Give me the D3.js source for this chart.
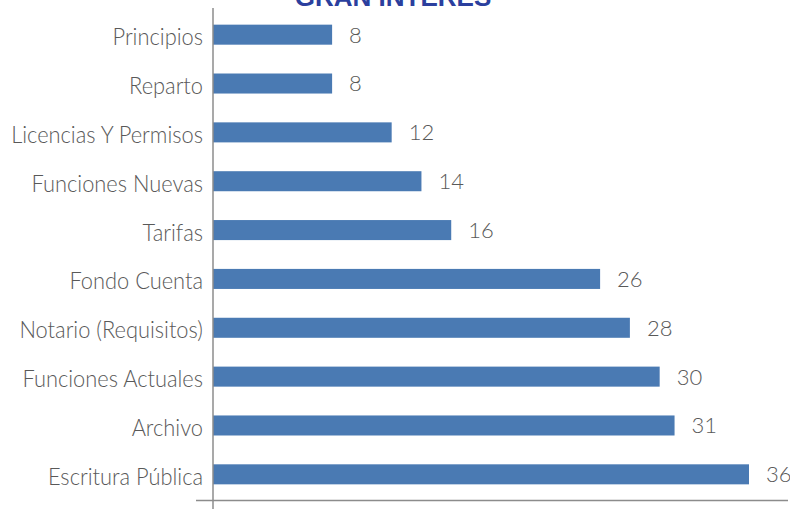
<!DOCTYPE html>
<html>
<head>
<meta charset="utf-8">
<script src="https://cdn.jsdelivr.net/npm/d3@7"></script>
<style>
  body { margin: 0; background: #fff; }
  text { font-family: Lato, sans-serif; font-weight: 300; }
</style>
</head>
<body>
<svg id="chart" width="790" height="509"></svg>
<script>
// chart data
var categories = ["Principios", "Reparto", "Licencias Y Permisos", "Funciones Nuevas", "Tarifas",
                  "Fondo Cuenta", "Notario (Requisitos)", "Funciones Actuales", "Archivo", "Escritura Pública"]
var values = [8, 8, 12, 14, 16, 26, 28, 30, 31, 36]
var title = "GRAN INTERÉS"

var svg = d3.select("#chart")
var x0 = 213, xEnd = 749, yTop = 10, yBottom = 499

var x = d3.scaleLinear().domain([0, 36]).range([x0, xEnd])
var y = d3.scaleBand().domain(categories).range([yTop, yBottom]).paddingInner(0.59).paddingOuter(0.3)

// title, mostly cut off by the top edge
svg.append("text")
  .attr("x", 393).attr("y", 6)
  .attr("text-anchor", "middle")
  .style("font-family", "Liberation Sans, Arial, sans-serif")
  .style("font-weight", 700)
  .style("font-size", "26px")
  .style("fill", "#2b3f9e")
  .text(title)

var data = categories.map(function(c, i){ return {name: c, value: values[i]} })

svg.selectAll("rect.bar").data(data).enter().append("rect")
  .attr("class", "bar")
  .attr("x", x(0))
  .attr("y", function(d){ return y(d.name) })
  .attr("width", function(d){ return x(d.value) - x(0) })
  .attr("height", y.bandwidth())
  .style("fill", "#4a7ab3")

// category labels (a bit condensed, like the original font)
svg.selectAll("text.cat").data(data).enter().append("text")
  .attr("class", "cat")
  .attr("transform", function(d){
    return "translate(203," + (y(d.name) + y.bandwidth() / 2 + 10.5) + ") scale(0.91,1)"
  })
  .attr("text-anchor", "end")
  .style("font-size", "24px")
  .style("fill", "#595959")
  .text(function(d){ return d.name })

// value labels
svg.selectAll("text.val").data(data).enter().append("text")
  .attr("class", "val")
  .attr("x", function(d){ return x(d.value) + 17 })
  .attr("y", function(d){ return y(d.name) + y.bandwidth() / 2 })
  .attr("dy", "0.36em")
  .style("font-size", "22px")
  .style("fill", "#595959")
  .text(function(d){ return d.value })

// axes lines
svg.append("line")
  .attr("x1", x0).attr("x2", x0).attr("y1", 8).attr("y2", 509)
  .style("stroke", "#8c8c8c").style("stroke-width", 1.5)
svg.append("line")
  .attr("x1", 196).attr("x2", 788).attr("y1", 500.5).attr("y2", 500.5)
  .style("stroke", "#8c8c8c").style("stroke-width", 1.5)
</script>
</body>
</html>
